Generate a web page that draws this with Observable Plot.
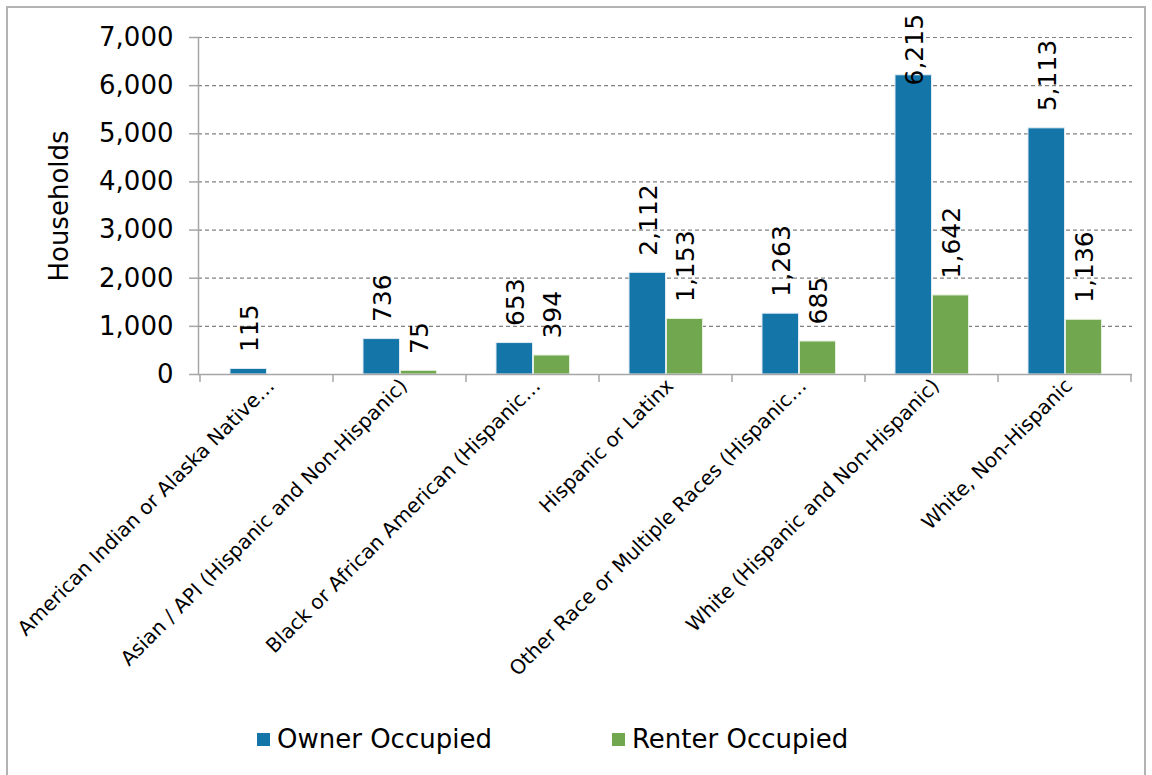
<!DOCTYPE html>
<html>
<head>
<meta charset="utf-8">
<script src="https://cdn.jsdelivr.net/npm/d3@7"></script>
<script src="https://cdn.jsdelivr.net/npm/@observablehq/plot@0.6"></script>
<style>
  html, body { margin: 0; padding: 0; background: #fff; }
  body { width: 1152px; height: 775px; position: relative; overflow: hidden; font-family: "DejaVu Sans", sans-serif; }
  #frame { position: absolute; left: 6px; top: 6px; width: 1140px; height: 790px; border: 2px solid #b3b3b3; box-sizing: border-box; }
  #chart { position: absolute; left: 0; top: 0; }
  #legend { position: absolute; left: 257px; top: 724px; display: flex; align-items: center; font-size: 26px; color: #000; }
  .item { display: flex; align-items: center; }
  .sw { width: 13px; height: 13px; margin-right: 7px; }
</style>
</head>
<body>
<div id="frame"></div>
<div id="chart"></div>
<div id="legend"></div>
<script>
const categories = [
  "American Indian or Alaska Native…",
  "Asian / API (Hispanic and Non-Hispanic)",
  "Black or African American (Hispanic…",
  "Hispanic or Latinx",
  "Other Race or Multiple Races (Hispanic…",
  "White (Hispanic and Non-Hispanic)",
  "White, Non-Hispanic"
];
const seriesNames = ["Owner Occupied", "Renter Occupied"];
const ownerValues = [115, 736, 653, 2112, 1263, 6215, 5113];
const renterValues = [null, 75, 394, 1153, 685, 1642, 1136];
const yTicks = [0, 1000, 2000, 3000, 4000, 5000, 6000, 7000];
const colors = ["#1475a8", "#71a84f"];

const ownerRows = categories.map((c, i) => ({cat: c, series: seriesNames[0], value: ownerValues[i]})).filter(d => d.value != null);
const renterRows = categories.map((c, i) => ({cat: c, series: seriesNames[1], value: renterValues[i]})).filter(d => d.value != null);

const fmt = d3.format(",");
const labelCap = 5650;

const boundaryTicks = (index, scales, values, dimensions) => {
  const g = document.createElementNS("http://www.w3.org/2000/svg", "g");
  const x = scales.x;
  const bw = x.bandwidth ? x.bandwidth() : 0;
  const y0 = scales.y(0);
  const xs = categories.map(c => x(c));
  xs.push(x(categories[categories.length - 1]) + bw);
  for (const px of xs) {
    const l = document.createElementNS("http://www.w3.org/2000/svg", "line");
    l.setAttribute("x1", px); l.setAttribute("x2", px);
    l.setAttribute("y1", y0); l.setAttribute("y2", y0 + 8);
    l.setAttribute("stroke", "#a6a6a6");
    l.setAttribute("stroke-width", 1.5);
    g.appendChild(l);
  }
  return g;
};

const chart = Plot.plot({
  width: 1152,
  height: 700,
  marginLeft: 198,
  marginRight: 20,
  marginTop: 37,
  marginBottom: 326,
  style: {fontFamily: "DejaVu Sans, sans-serif", color: "#000", background: "transparent"},
  x: {domain: categories, padding: 0, axis: null},
  y: {domain: [0, 7000], axis: null},
  marks: [
    Plot.gridY(yTicks, {stroke: "#808080", strokeOpacity: 1, strokeDasharray: "4,3", strokeWidth: 1.2}),
    Plot.barY(ownerRows, {x: "cat", y: "value", fill: colors[0], stroke: "#dfeaf2", strokeWidth: 1, insetLeft: 30, insetRight: 66.5}),
    Plot.barY(renterRows, {x: "cat", y: "value", fill: colors[1], stroke: "#e3eedc", strokeWidth: 1, insetLeft: 67.5, insetRight: 29.5}),
    Plot.ruleY([0], {stroke: "#a6a6a6", strokeWidth: 1.5}),
    Plot.frame({anchor: "left", stroke: "#a6a6a6", strokeWidth: 1.5}),
    boundaryTicks,
    Plot.axisY({ticks: yTicks, tickFormat: fmt, tickSize: 9, tickPadding: 16, fontSize: 26, stroke: "#a6a6a6", strokeWidth: 1.5, label: null}),
    Plot.axisX({tickSize: 0, tickRotate: -45, tickPadding: 8, dx: 4, fontSize: 20, label: null}),
    Plot.text(["Households"], {frameAnchor: "left", textAnchor: "middle", rotate: -90, dx: -139, fontSize: 26}),
    Plot.text(ownerRows, {x: "cat", y: d => Math.min(d.value, labelCap), text: d => fmt(d.value), rotate: -90, textAnchor: "start", dy: -17, dx: -17, fontSize: 25, fill: "#000"}),
    Plot.text(renterRows, {x: "cat", y: d => Math.min(d.value, labelCap), text: d => fmt(d.value), rotate: -90, textAnchor: "start", dy: -17, dx: 20, fontSize: 25, fill: "#000"})
  ]
});
document.getElementById("chart").appendChild(chart);

const legend = document.getElementById("legend");
seriesNames.forEach((name, i) => {
  const item = document.createElement("div");
  item.className = "item";
  if (i > 0) item.style.marginLeft = "120px";
  const sw = document.createElement("span");
  sw.className = "sw";
  sw.style.background = colors[i];
  const t = document.createElement("span");
  t.textContent = name;
  item.appendChild(sw);
  item.appendChild(t);
  legend.appendChild(item);
});
</script>
</body>
</html>
